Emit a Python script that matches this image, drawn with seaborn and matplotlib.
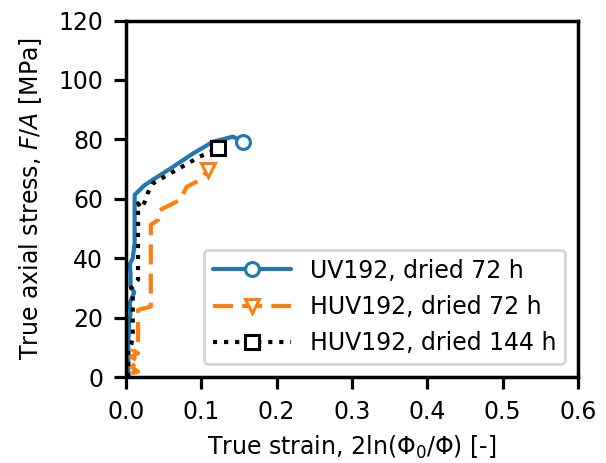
import matplotlib
matplotlib.use("Agg")
import matplotlib.pyplot as plt
import seaborn as sns
import numpy as np

sns.set_style("ticks")
plt.rcParams['font.family'] = ['DejaVu Sans']
plt.rcParams['text.color'] = 'black'
plt.rcParams['axes.labelcolor'] = 'black'
plt.rcParams['xtick.color'] = 'black'
plt.rcParams['ytick.color'] = 'black'

uv72_strain = [0.003, 0.003, 0.004, 0.006, 0.005, 0.011, 0.006, 0.006, 0.005, 0.009, 0.0115, 0.0115, 0.0248, 0.0628, 0.0894, 0.1155, 0.142, 0.155]
uv72_stress = [0, 10, 18, 21.5, 25, 28.5, 30.5, 35, 38, 40, 45, 61.3, 64.6, 70.8, 75.3, 79.2, 80.9, 79.2]

huv72_strain = [0.007, 0.016, 0.007, 0.018, 0.007, 0.016, 0.009, 0.016, 0.016, 0.033, 0.033, 0.0425, 0.045, 0.0717, 0.0806, 0.098, 0.109]
huv72_stress = [1.3, 1.8, 3.5, 5.2, 6.8, 8, 9.1, 11.4, 22.6, 23.7, 51.2, 52.9, 56.2, 59.6, 64, 66.3, 69.7]

huv144_strain = [0.003, 0.003, 0.007, 0.009, 0.009, 0.007, 0.016, 0.016, 0.020, 0.025, 0.029, 0.036, 0.067, 0.098, 0.1226]
huv144_stress = [0, 9, 11, 13.6, 28, 30, 32.7, 58.5, 56.8, 59, 62, 65.2, 69.7, 74.2, 77]

labels = ["UV192, dried 72 h", "HUV192, dried 72 h", "HUV192, dried 144 h"]
colors = ["#1f77b4", "#ff7f0e", "black"]
styles = ["-", (0, (4.8, 2.2)), (0, (1, 1.65))]
markers = ["o", "v", "s"]

fig = plt.figure(figsize=(6.06, 4.63), dpi=100)
ax = fig.add_axes([0.2079, 0.1857, 0.7459, 0.7700])

series = [(uv72_strain, uv72_stress), (huv72_strain, huv72_stress), (huv144_strain, huv144_stress)]
for (xs, ys), lab, c, ls, m in zip(series, labels, colors, styles, markers):
    sns.lineplot(x=xs, y=ys, sort=False, estimator=None, ax=ax, label=lab,
                 color=c, linestyle=ls, linewidth=3, marker=m, markevery=[len(xs) - 1],
                 markersize=10, markerfacecolor="white", markeredgecolor=c, markeredgewidth=2.2)

ax.set_xlim(0, 0.6)
ax.set_ylim(0, 120)
ax.set_xticks(np.arange(0, 0.61, 0.1))
ax.set_xticklabels(["0.0", "0.1", "0.2", "0.3", "0.4", "0.5", "0.6"])
ax.set_yticks(np.arange(0, 121, 20))
for s in ax.spines.values():
    s.set_linewidth(2.5)
    s.set_color("black")
ax.tick_params(width=2.3, length=8.5, labelsize=17, color="black", pad=8)
ax.set_xlabel("True strain, 2ln(Φ$_0$/Φ) [-]", fontsize=17, labelpad=7)
ax.set_ylabel("True axial stress, $F/A$ [MPa]", fontsize=17, labelpad=10)
leg = ax.legend(loc="lower right", fontsize=17, frameon=True, handlelength=3.3,
                borderpad=0.38, labelspacing=0.52, handletextpad=0.8, borderaxespad=0.55)
leg.get_frame().set_edgecolor("#cccccc")
leg.get_frame().set_linewidth(2)

fig.savefig("out.png", dpi=100)
